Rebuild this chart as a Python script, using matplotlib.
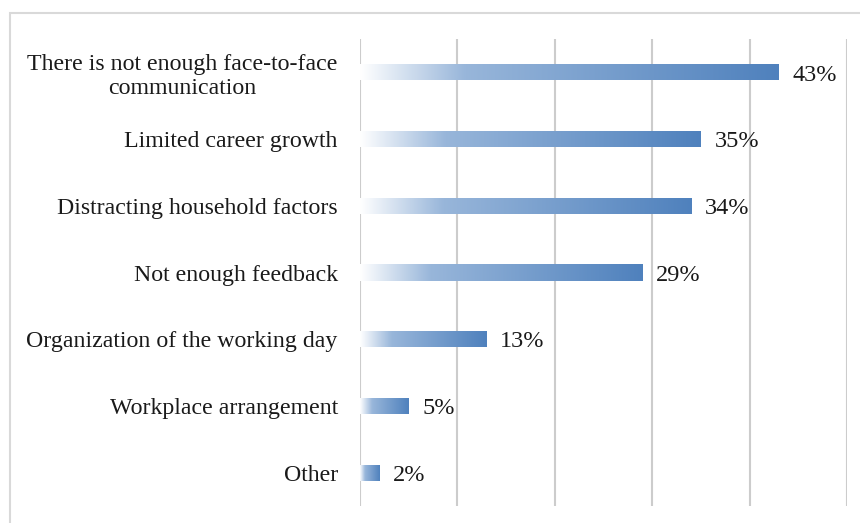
import numpy as np
import matplotlib.pyplot as plt
from matplotlib.colors import LinearSegmentedColormap
from matplotlib.patches import Rectangle

# survey answers, top to bottom
categories = [
    "There is not enough face-to-face\ncommunication",
    "Limited career growth",
    "Distracting household factors",
    "Not enough feedback",
    "Organization of the working day",
    "Workplace arrangement",
    "Other",
]
shares = [43, 35, 34, 29, 13, 5, 2]
value_labels = ["43%", "35%", "34%", "29%", "13%", "5%", "2%"]

plt.rcParams["font.family"] = ["Liberation Serif", "DejaVu Serif"]

fade = LinearSegmentedColormap.from_list(
    "fade", [(0.0, "#ffffff"), (0.25, "#98b6da"), (1.0, "#4f81bd")])
grad = np.linspace(0, 1, 256).reshape(1, -1)

fig = plt.figure(figsize=(8.6, 5.23), dpi=100)
fig.patches.append(Rectangle((10 / 860, -0.05), 1.0, 1 - 13 / 523 + 0.05,
                             transform=fig.transFigure, fill=False,
                             edgecolor="#d9d9d9", linewidth=1.5))
ax = fig.add_axes([360 / 860, 17 / 523, 487 / 860, 467 / 523])

y = np.arange(len(categories))
bar_h = 0.24
bars = ax.barh(y, shares, height=bar_h, color="none", edgecolor="none", zorder=3)

# each bar gets its own white-to-blue gradient, clipped to the bar outline
for b in bars:
    x0, y0 = b.get_x(), b.get_y()
    w, h = b.get_width(), b.get_height()
    im = ax.imshow(grad, cmap=fade, aspect="auto", interpolation="bicubic",
                   extent=(x0, x0 + w, y0, y0 + h), zorder=3)
    im.set_clip_path(b)

for yi, v, lab in zip(y, shares, value_labels):
    ax.text(v + 1.4, yi + 0.04, lab, va="center", ha="left", fontsize=17.5,
            color="#1a1a1a", zorder=4)

ax.set_xlim(0, 50)
ax.set_ylim(len(categories) - 0.5, -0.5)
ax.set_xticks(np.arange(0, 51, 10))
ax.set_xticklabels([])
ax.set_yticks(y)
ax.set_yticklabels(categories, fontsize=17.2, color="#1a1a1a")
for t in ax.get_yticklabels():
    t.set_multialignment("center")
ax.tick_params(axis="both", length=0)
ax.tick_params(axis="y", pad=16)

ax.grid(axis="x", color="#cccccc", linewidth=1.5, zorder=0)
for s in ax.spines.values():
    s.set_visible(False)

fig.savefig("out.png", dpi=100)
